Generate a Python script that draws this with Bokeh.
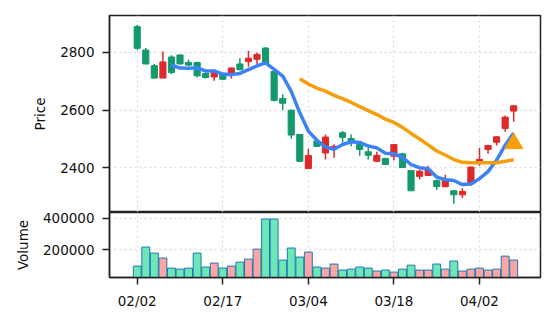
import pandas as pd
from bokeh.plotting import figure
from bokeh.layouts import column
from bokeh.models import ColumnDataSource, FixedTicker, Range1d
from bokeh.embed import file_html
from bokeh.resources import INLINE

dates = ["02/02", "02/17", "03/04", "03/18", "04/02"]
date_pos = [0, 10, 20, 30, 40]

opens = [2889, 2808, 2754, 2711, 2784, 2791, 2765, 2765, 2727, 2715,
         2725, 2725, 2760, 2768, 2776, 2815, 2734, 2640, 2600, 2516,
         2398, 2493, 2452, 2467, 2522, 2502, 2481, 2456, 2423, 2433,
         2441, 2449, 2391, 2371, 2374, 2356, 2335, 2321, 2307, 2345,
         2421, 2464, 2489, 2537, 2597]
highs = [2895, 2815, 2760, 2803, 2790, 2793, 2775, 2768, 2730, 2733,
         2728, 2748, 2780, 2806, 2800, 2818, 2738, 2655, 2602, 2518,
         2467, 2495, 2516, 2481, 2528, 2516, 2485, 2470, 2456, 2435,
         2483, 2453, 2393, 2394, 2408, 2360, 2377, 2323, 2330, 2405,
         2469, 2480, 2510, 2582, 2617]
lows = [2809, 2758, 2710, 2711, 2725, 2758, 2752, 2713, 2710, 2702,
        2705, 2710, 2738, 2750, 2760, 2758, 2630, 2600, 2501, 2420,
        2398, 2473, 2429, 2435, 2487, 2475, 2442, 2429, 2423, 2410,
        2427, 2400, 2320, 2360, 2374, 2324, 2335, 2276, 2296, 2339,
        2408, 2449, 2478, 2525, 2560]
closes = [2814, 2760, 2711, 2767, 2730, 2760, 2756, 2719, 2713, 2730,
          2707, 2746, 2740, 2780, 2793, 2760, 2634, 2624, 2514, 2423,
          2443, 2475, 2507, 2475, 2506, 2490, 2464, 2444, 2444, 2412,
          2481, 2402, 2321, 2389, 2394, 2336, 2357, 2307, 2319, 2403,
          2430, 2478, 2508, 2576, 2615]
volumes = [97000, 217000, 179000, 148000, 84500, 78000, 84500, 179000, 91000, 116000,
           84500, 97000, 122000, 141000, 204000, 394000, 394000, 135000, 211000, 154000,
           185500, 91000, 84500, 110000, 72000, 78000, 91000, 84500, 66000, 72000,
           59000, 78000, 103000, 72000, 72000, 110000, 78000, 129000, 66000, 78000,
           84500, 72000, 78000, 160000, 135000]
signal_idx = [44]
signal_price = [2485]

n = len(closes)
idx = list(range(n))
df = pd.DataFrame({"i": idx, "o": opens, "h": highs, "l": lows, "c": closes, "v": volumes})
df["up"] = df["c"] >= df["o"]
df["top"] = df[["o", "c"]].max(axis=1)
df["bot"] = df[["o", "c"]].min(axis=1)
df["col"] = ["#dc2a2a" if u else "#13996a" for u in df["up"]]
df["vcol"] = ["#fca5a5" if u else "#6ee7b7" for u in df["up"]]
df["ma5"] = df["c"].rolling(5).mean()
df["ma20"] = df["c"].rolling(20).mean()

src = ColumnDataSource(df)
ma5 = df.dropna(subset=["ma5"])
ma20 = df.dropna(subset=["ma20"])

FONT = "DejaVu Sans"
xr = Range1d(-3.24, 47.13)
OVER = 12

p1 = figure(width=556, height=212, x_range=xr, y_range=Range1d(2246, 2927.6),
            output_backend="svg", toolbar_location=None,
            min_border_left=109, min_border_right=16, min_border_top=15, min_border_bottom=0)
p1.segment(x0="i", y0="h", x1="i", y1="l", color="col", line_width=1.5, source=src)
p1.vbar(x="i", top="top", bottom="bot", width=0.72, fill_color="col", line_color="col",
        line_width=1, source=src)
p1.line(ma5["i"], ma5["ma5"], color="#3b82f6", line_width=3.5)
p1.line(ma20["i"], ma20["ma20"], color="#f59e0b", line_width=3.5)
p1.scatter(signal_idx, signal_price, marker="triangle", size=18, color="#f59e0b")

p2 = figure(width=556, height=110 + OVER, x_range=xr, y_range=Range1d(25200, 435000),
            output_backend="svg", toolbar_location=None,
            min_border_left=109, min_border_right=16, min_border_top=OVER, min_border_bottom=45)
p2.margin = (-OVER, 0, 0, 0)
p2.vbar(x="i", top="v", bottom=0, width=0.92, fill_color="vcol", line_color="#1f77b4",
        line_width=1, source=src)

p1.yaxis.ticker = FixedTicker(ticks=[2400, 2600, 2800])
p1.yaxis.axis_label = "Price"
p1.xaxis.visible = False
p2.yaxis.ticker = FixedTicker(ticks=[200000, 400000])
p2.yaxis.axis_label = "Volume"
p2.xaxis.ticker = FixedTicker(ticks=date_pos)
p2.xaxis.major_label_overrides = {pos: d for pos, d in zip(date_pos, dates)}

for p in (p1, p2):
    p.outline_line_color = "#222222"
    p.outline_line_width = 1.5
    p.xgrid.ticker = FixedTicker(ticks=date_pos)
    for g in (p.xgrid, p.ygrid):
        g.grid_line_color = "#dcdcdc"
        g.grid_line_dash = "2 3"
        g.grid_line_width = 1.3
    for ax in p.axis:
        ax.axis_line_color = "#222222"
        ax.axis_line_width = 1.5
        ax.major_tick_line_color = "#222222"
        ax.major_tick_line_width = 1.5
        ax.major_tick_out = 7
        ax.major_tick_in = 0
        ax.minor_tick_line_color = None
        ax.major_label_text_font = FONT
        ax.major_label_text_font_size = "13.5px"
        ax.major_label_text_color = "#111111"
        ax.major_label_standoff = 8
        ax.axis_label_text_font = FONT
        ax.axis_label_text_font_size = "13.5px"
        ax.axis_label_text_font_style = "normal"
        ax.axis_label_text_color = "#111111"
    p.yaxis.axis_label_standoff = 9
    p.yaxis.formatter.use_scientific = False
    p.background_fill_color = "white"

p1.border_fill_color = "white"
p2.border_fill_color = None

layout = column(p1, p2, spacing=0)
open("out.html", "w").write(file_html(layout, INLINE))
